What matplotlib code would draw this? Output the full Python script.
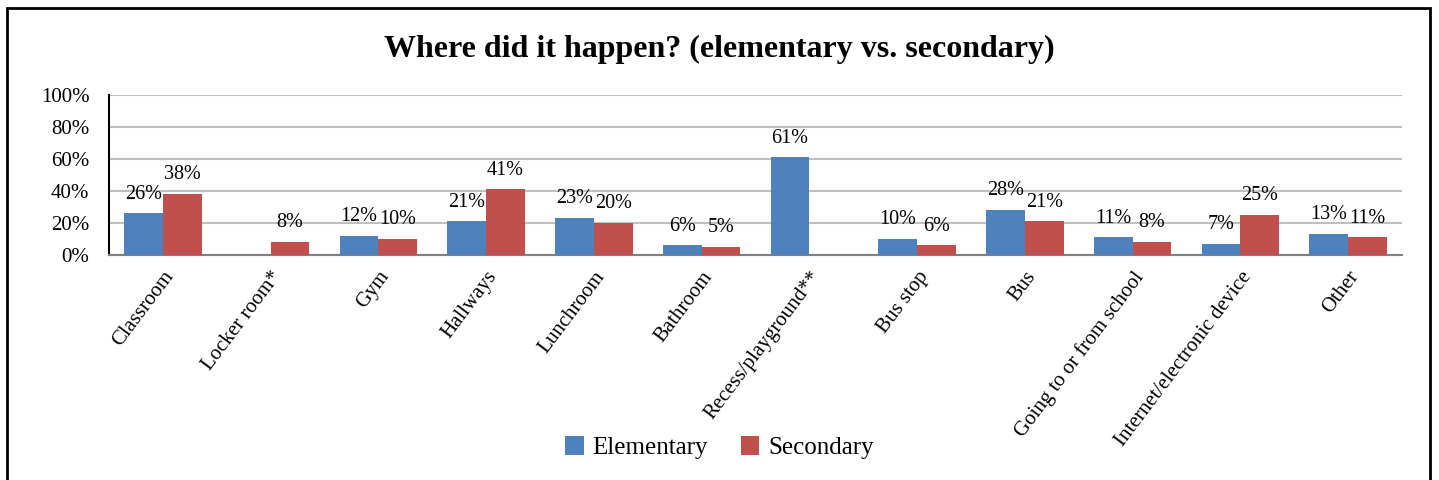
import numpy as np
import matplotlib
matplotlib.use("Agg")
import matplotlib.pyplot as plt
from matplotlib.patches import Rectangle
from matplotlib.transforms import ScaledTranslation

categories = ["Classroom", "Locker room*", "Gym", "Hallways", "Lunchroom", "Bathroom",
              "Recess/playground**", "Bus stop", "Bus", "Going to or from school",
              "Internet/electronic device", "Other"]
elementary = [26, np.nan, 12, 21, 23, 6, 61, 10, 28, 11, 7, 13]
secondary = [38, 8, 10, 41, 20, 5, np.nan, 6, 21, 8, 25, 11]
yticks = [0, 20, 40, 60, 80, 100]
title = "Where did it happen? (elementary vs. secondary)"

plt.rcParams['font.family'] = ['Liberation Serif', 'DejaVu Serif']

fig = plt.figure(figsize=(14.39, 4.8), dpi=100)
ax = fig.add_axes([0.0757, 0.46875, 0.8986, 0.3333])

blue = "#4F81BD"
red = "#C0504D"
x = np.arange(len(categories))
w = 0.36
b1 = ax.bar(x - w/2, elementary, w, color=blue, label="Elementary", zorder=3)
b2 = ax.bar(x + w/2, secondary, w, color=red, label="Secondary", zorder=3)

for bars, vals in ((b1, elementary), (b2, secondary)):
    for rect, v in zip(bars, vals):
        if np.isnan(v):
            continue
        ax.annotate(f"{int(v)}%", (rect.get_x() + rect.get_width()/2, v),
                    xytext=(0, 7), textcoords="offset points",
                    ha="center", va="bottom", fontsize=14.5)

ax.set_xlim(-0.5, len(categories) - 0.5)
ax.set_ylim(0, 100)
ax.set_yticks(yticks)
ax.set_yticklabels([f"{t}%" for t in yticks], fontsize=15)
ax.set_xticks(x)
ax.set_xticklabels(categories, rotation=53, ha="right", va="top",
                   rotation_mode="anchor", fontsize=15)
offset = ScaledTranslation(-5/100, -4/100, fig.dpi_scale_trans)
for lbl in ax.get_xticklabels():
    lbl.set_transform(lbl.get_transform() + offset)
ax.tick_params(axis="both", length=0)
ax.tick_params(axis="y", pad=14)
ax.tick_params(axis="x", pad=9)
ax.yaxis.grid(True, color="#BFBFBF", linewidth=1.5, zorder=0)
ax.set_axisbelow(True)
for s in ["top", "right"]:
    ax.spines[s].set_visible(False)
ax.spines["left"].set_color("black")
ax.spines["left"].set_linewidth(1.5)
ax.spines["bottom"].set_color("#808080")
ax.spines["bottom"].set_linewidth(1.5)

fig.text(0.5, 0.897, title, ha="center", va="center", fontsize=23, fontweight="bold")

fig.legend(handles=[b1, b2], loc="center", bbox_to_anchor=(0.5, 0.067), ncol=2,
           frameon=False, fontsize=18, handlelength=0.75, handleheight=0.75,
           handletextpad=0.35, columnspacing=1.3)

fig.patches.append(Rectangle((0.0049, -0.05), 0.9888, 1.033, transform=fig.transFigure,
                             fill=False, edgecolor="black", linewidth=2))

fig.savefig("out.png", dpi=100)
